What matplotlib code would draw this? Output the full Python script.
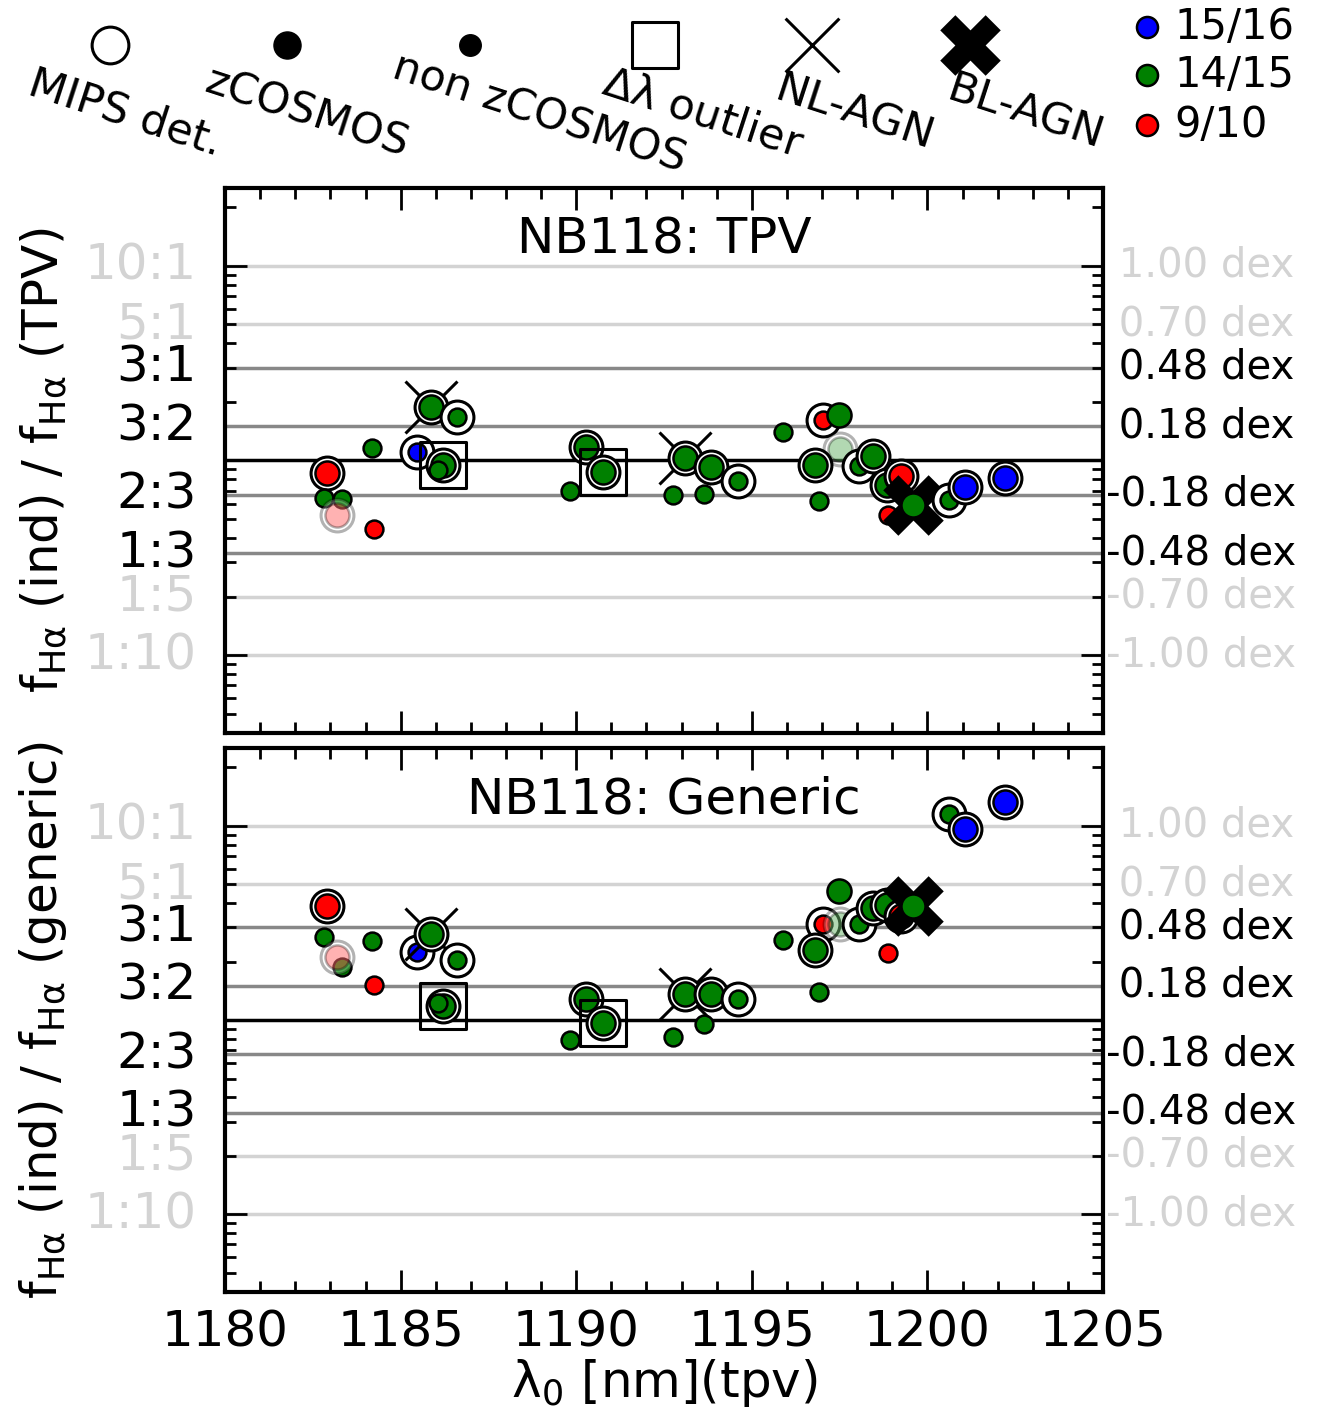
import numpy as np
import matplotlib
matplotlib.use("Agg")
import matplotlib.pyplot as plt
from matplotlib.ticker import MultipleLocator, NullFormatter

plt.rcParams['mathtext.default'] = 'regular'
plt.rcParams['font.family'] = ['DejaVu Sans']

# object wavelengths [nm]
lam = [1182.90, 1182.82, 1183.32, 1183.20, 1184.24, 1184.18, 1185.46, 1185.87,
       1186.61, 1186.20, 1186.07, 1190.27, 1190.77, 1189.82, 1193.10, 1193.84,
       1194.62, 1192.77, 1193.65, 1195.90, 1197.02, 1197.49, 1197.50, 1196.80,
       1196.92, 1198.06, 1198.44, 1198.86, 1199.24, 1198.89, 1199.58, 1200.62,
       1201.07, 1202.21]
# log10 of flux ratio individual / TPV
dex_tpv = [-0.063, -0.194, -0.200, -0.280, -0.354, 0.063, 0.045, 0.277,
           0.225, -0.023, -0.050, 0.068, -0.058, -0.155, 0.015, -0.032,
           -0.104, -0.177, -0.172, 0.148, 0.208, 0.234, 0.057, -0.023,
           -0.207, -0.028, 0.023, -0.126, -0.080, -0.280, -0.229, -0.203,
           -0.138, -0.092]
# log10 of flux ratio individual / generic
dex_gen = [0.588, 0.428, 0.273, 0.325, 0.180, 0.407, 0.350, 0.445,
           0.309, 0.070, 0.090, 0.110, -0.017, -0.103, 0.132, 0.136,
           0.107, -0.088, -0.019, 0.410, 0.493, 0.665, 0.493, 0.359,
           0.144, 0.493, 0.579, 0.593, 0.536, 0.344, 0.588, 1.063,
           0.983, 1.120]
# redshift slice: 'b' 15/16, 'g' 14/15, 'r' 9/10
zslice = ['r', 'g', 'g', 'r', 'r', 'g', 'b', 'g',
          'g', 'g', 'g', 'g', 'g', 'g', 'g', 'g',
          'g', 'g', 'g', 'g', 'r', 'g', 'g', 'g',
          'g', 'g', 'g', 'g', 'r', 'r', 'g', 'g',
          'b', 'b']
zcosmos = [1, 0, 0, 1, 0, 0, 0, 1, 0, 1, 0, 1, 1, 0, 1, 1, 0, 0, 0, 0, 0,
           1, 1, 1, 0, 0, 1, 1, 1, 0, 1, 0, 1, 1]
mips = [1, 0, 0, 1, 0, 0, 1, 1, 1, 1, 0, 1, 1, 0, 1, 1, 1, 0, 0, 0, 1,
        0, 1, 1, 0, 1, 1, 1, 1, 0, 0, 1, 1, 1]
outlier = [0, 0, 0, 0, 0, 0, 0, 0, 0, 1, 0, 0, 1, 0, 0, 0, 0, 0, 0, 0, 0,
           0, 0, 0, 0, 0, 0, 0, 0, 0, 0, 0, 0, 0]
nl_agn = [0, 0, 0, 0, 0, 0, 0, 1, 0, 0, 0, 0, 0, 0, 1, 0, 0, 0, 0, 0, 0,
          0, 0, 0, 0, 0, 0, 0, 0, 0, 0, 0, 0, 0]
bl_agn = [0, 0, 0, 0, 0, 0, 0, 0, 0, 0, 0, 0, 0, 0, 0, 0, 0, 0, 0, 0, 0,
          0, 0, 0, 0, 0, 0, 0, 0, 0, 1, 0, 0, 0]
faded = [0, 0, 0, 1, 0, 0, 0, 0, 0, 0, 0, 0, 0, 0, 0, 0, 0, 0, 0, 0, 0,
         0, 1, 0, 0, 0, 0, 0, 0, 0, 0, 0, 0, 0]

slice_colours = {'b': (0, 0, 1), 'g': (0, 0.5, 0), 'r': (1, 0, 0)}
slice_names = ['15/16', '14/15', '9/10']

ratio_vals = [10, 5, 3, 3 / 2, 2 / 3, 1 / 3, 1 / 5, 1 / 10]
ratio_labels = ['10:1', '5:1', '3:1', '3:2', '2:3', '1:3', '1:5', '1:10']
light = '#d3d3d3'
mid = '#888888'
ratio_cols = [light, light, mid, mid, mid, mid, light, light]

fig = plt.figure(figsize=(13.23, 14.09), dpi=100)
ax1 = fig.add_axes([0.1701, 0.4798, 0.6636, 0.3868])
ax2 = fig.add_axes([0.1701, 0.0830, 0.6636, 0.3861])


def panel(ax, dex, title, ylab):
    ratio = 10 ** np.array(dex)
    for r, c in zip(ratio_vals, ratio_cols):
        ax.axhline(r, color=c, lw=2.5, zorder=1)
    ax.axhline(1, color='black', lw=2.5, zorder=1)

    for i in range(len(lam)):
        a = 0.3 if faded[i] else 1.0
        z = 2 + i * 0.01
        col = slice_colours[zslice[i]]
        if outlier[i]:
            ax.scatter(lam[i], ratio[i], s=1100, marker='s', facecolor='none',
                       edgecolor='black', lw=2.2, alpha=a, zorder=z)
        if nl_agn[i]:
            ax.scatter(lam[i], ratio[i], s=1400, marker='x', color='black',
                       lw=2.2, alpha=a, zorder=z)
        if bl_agn[i]:
            ax.scatter(lam[i], ratio[i], s=1900, marker='X', color='black',
                       lw=0, alpha=a, zorder=z)
        if mips[i]:
            ax.scatter(lam[i], ratio[i], s=560, facecolor='white',
                       edgecolor='black', lw=2.2, alpha=a, zorder=z + 0.002)
        ax.scatter(lam[i], ratio[i], s=300 if zcosmos[i] else 165, color=col,
                   edgecolor='black', lw=1.8, alpha=a, zorder=z + 0.004)

    ax.set_xlim(1180, 1205)
    ax.set_yscale('log')
    ax.set_ylim(10 ** -1.4, 10 ** 1.4)
    ax.xaxis.set_major_locator(MultipleLocator(5))
    ax.xaxis.set_minor_locator(MultipleLocator(1))
    ax.yaxis.set_major_formatter(NullFormatter())
    ax.yaxis.set_minor_formatter(NullFormatter())
    ax.tick_params(which='both', direction='in', top=True, right=True,
                   width=2, labelsize=36)
    ax.tick_params(axis='x', which='both', pad=12)
    ax.tick_params(which='major', length=16)
    ax.tick_params(which='minor', length=8)
    for sp in ax.spines.values():
        sp.set_linewidth(3)

    tr = ax.get_yaxis_transform()
    for r, lab, c in zip(ratio_vals, ratio_labels, ratio_cols):
        tc = 'black' if c == mid else light
        ax.text(-0.032, r, lab, transform=tr, ha='right', va='center',
                fontsize=36, color=tc)
        ax.text(1.004, r, f"{np.log10(r): .2f} dex", transform=tr,
                ha='left', va='center', fontsize=29, color=tc)

    ax.text(0.5, 0.905, title, transform=ax.transAxes, ha='center',
            va='center', fontsize=36)
    ax.set_ylabel(ylab, fontsize=36)
    ax.yaxis.set_label_coords(-0.178, 0.5)


panel(ax1, dex_tpv, 'NB118: TPV',
      r'$f_{H\alpha}$ (ind) / $f_{H\alpha}$ (TPV)')
panel(ax2, dex_gen, 'NB118: Generic',
      r'$f_{H\alpha}$ (ind) / $f_{H\alpha}$ (generic)')
ax1.tick_params(labelbottom=False)
ax2.set_xlabel(r'$\lambda_0$ [nm](tpv)', fontsize=36, labelpad=0)

# symbol legend across the top
lax = fig.add_axes([0, 0.88, 1, 0.12])
lax.set_xlim(0, 1)
lax.set_ylim(0, 1)
lax.axis('off')
sym_names = ['MIPS det.', 'zCOSMOS', 'non zCOSMOS', r'$\Delta\lambda$ outlier',
             'NL-AGN', 'BL-AGN']
sym_x = [0.083, 0.217, 0.355, 0.495, 0.614, 0.733]
sym_lab_x = [0.095, 0.232, 0.408, 0.531, 0.646, 0.775]
sym_y = 0.734
lab_y = 0.33
lax.scatter(sym_x[0], sym_y, s=700, facecolor='white', edgecolor='black', lw=2.2)
lax.scatter(sym_x[1], sym_y, s=380, color='black')
lax.scatter(sym_x[2], sym_y, s=240, color='black')
lax.scatter(sym_x[3], sym_y, s=1100, marker='s', facecolor='none',
            edgecolor='black', lw=2.2)
lax.scatter(sym_x[4], sym_y, s=1500, marker='x', color='black', lw=2.2)
lax.scatter(sym_x[5], sym_y, s=1900, marker='X', color='black', lw=0)
for xl, name in zip(sym_lab_x, sym_names):
    lax.text(xl, lab_y, name, ha='center', va='center', rotation=-18,
             rotation_mode='anchor', fontsize=31)

# redshift slice legend
col_y = [0.84, 0.556, 0.26]
for yy, key, name in zip(col_y, ['b', 'g', 'r'], slice_names):
    lax.scatter(0.867, yy, s=230, color=slice_colours[key], edgecolor='black',
                lw=1.8)
    lax.text(0.888, yy, name, ha='left', va='center', fontsize=30)

fig.savefig('out.png', dpi=100)
